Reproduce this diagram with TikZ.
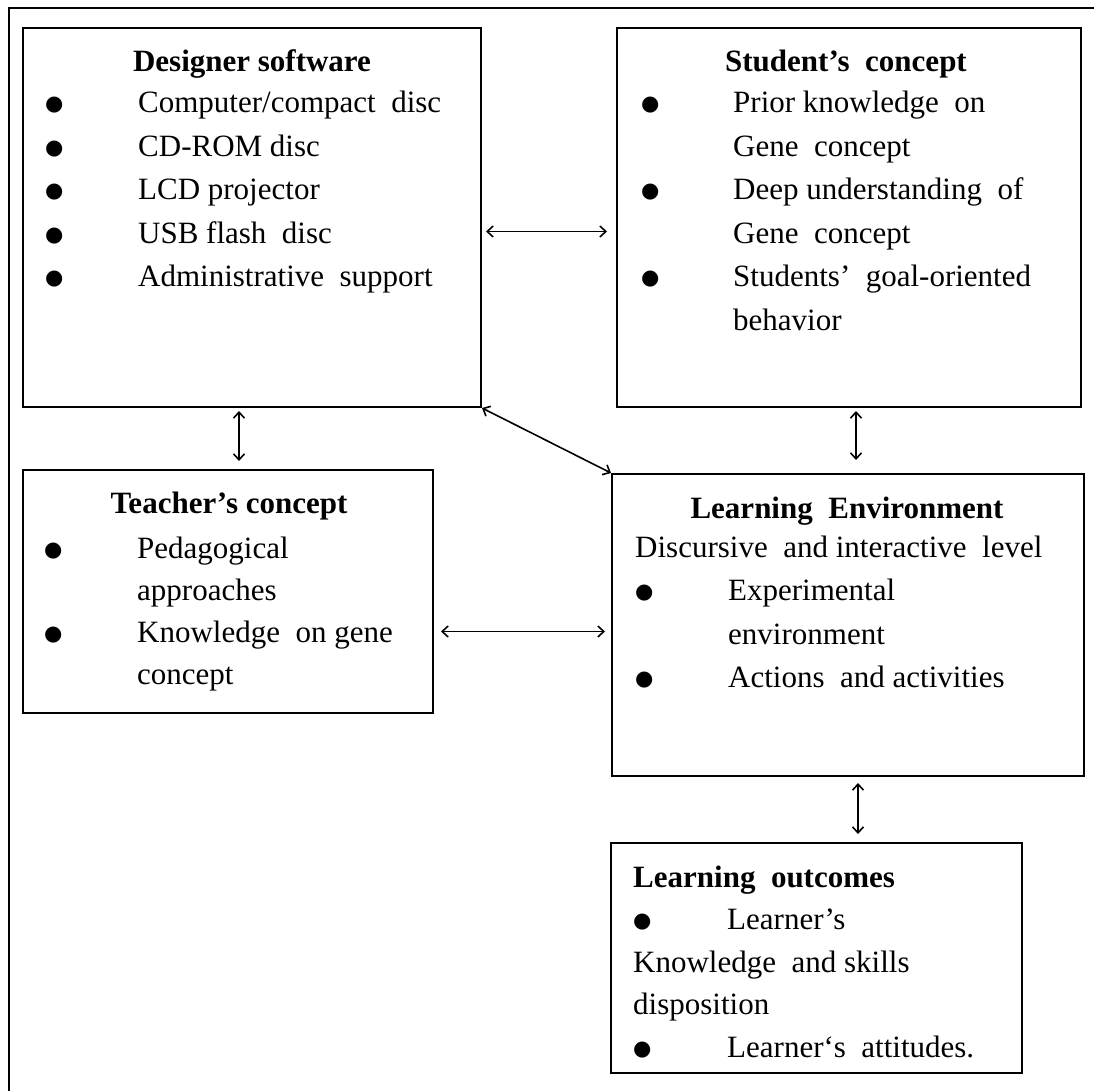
\documentclass[tikz,border=0pt]{standalone}
\usepackage{fontspec}
\setmainfont{Liberation Serif}
\newfontfamily\symfont{DejaVu Sans}
\usetikzlibrary{arrows.meta}

\newcommand{\bul}{\raisebox{2pt}{\symfont\fontsize{21}{21}\selectfont ●}}

\begin{document}
\begin{tikzpicture}[x=1pt, y=-1pt,
  font=\fontsize{31}{43.5}\selectfont,
  block/.style={draw, line width=2pt, inner sep=0pt},
  head/.style={anchor=base, inner sep=0pt, font=\fontsize{31}{43.5}\selectfont\bfseries},
  list/.style={anchor=base west, inner sep=0pt},
  link/.style={{Straight Barb[length=6pt,width=11pt]}-{Straight Barb[length=6pt,width=11pt]}, line width=1.6pt}]
  \useasboundingbox (0,0) rectangle (1094,1091);

  % Frame
  \draw[line width=2pt] (9,1091) |- (1094,8);

  % Boxes
  \node[block, minimum width=458pt, minimum height=379pt] (ds) at (252,217.5) {};
  \node[block, minimum width=464pt, minimum height=379pt] (st) at (849,217.5) {};
  \node[block, minimum width=410pt, minimum height=243pt] (te) at (228,591.5) {};
  \node[block, minimum width=472pt, minimum height=302pt] (le) at (848,625) {};
  \node[block, minimum width=411pt, minimum height=230pt] (lo) at (816.5,958) {};

  % Designer software
  \node[head] (dsH) at (252,72) {Designer software};
  \node[list] (dsL) at (45,113) {\begin{tabular}[t]{@{}p{93pt}@{}l@{}}
    \bul & Computer/compact~ disc\\
    \bul & CD-ROM disc\\
    \bul & LCD projector\\
    \bul & USB flash~ disc\\
    \bul & Administrative~ support
  \end{tabular}};

  % Student's concept
  \node[head] (stH) at (846,72) {Student’s~ concept};
  \node[list] (stL) at (641,113) {\begin{tabular}[t]{@{}p{92pt}@{}l@{}}
    \bul & Prior knowledge~ on\\
         & Gene~ concept\\
    \bul & Deep understanding~ of\\
         & Gene~ concept\\
    \bul & Students’~ goal-oriented\\
         & behavior
  \end{tabular}};

  % Teacher's concept
  \node[head] (teH) at (229,513) {Teacher’s concept};
  \node[list, font=\fontsize{31}{42}\selectfont] (teL) at (44,558) {\begin{tabular}[t]{@{}p{93pt}@{}l@{}}
    \bul & Pedagogical\\
         & approaches\\
    \bul & Knowledge~ on gene\\
         & concept
  \end{tabular}};

  % Learning Environment
  \node[head] (leH) at (847,518) {Learning~ Environment};
  \node[list] (leL) at (635,557) {\begin{tabular}[t]{@{}p{93pt}@{}l@{}}
    \multicolumn{2}{@{}l@{}}{Discursive~ and interactive~ level}\\
    \bul & Experimental\\
         & environment\\
    \bul & Actions~ and activities
  \end{tabular}};

  % Learning outcomes
  \node[list, font=\fontsize{31}{42.5}\selectfont] (loL) at (633,887) {\begin{tabular}[t]{@{}p{94pt}@{}l@{}}
    \multicolumn{2}{@{}l@{}}{\bfseries Learning~ outcomes}\\
    \bul & Learner’s\\
    \multicolumn{2}{@{}l@{}}{Knowledge~ and skills}\\
    \multicolumn{2}{@{}l@{}}{disposition}\\
    \bul & Learner‘s~ attitudes.
  \end{tabular}};

  % Arrows
  \draw[link, shorten <=4pt, shorten >=9pt] ([yshift=-14pt]ds.east) -- ([yshift=-14pt]st.west);
  \draw[link, shorten <=3pt, shorten >=8pt] ([xshift=-13pt]ds.south) -- ([xshift=-13pt]ds.south |- te.north);
  \draw[link] (ds.south east) -- (le.north west);
  \draw[link, shorten <=3pt, shorten >=13pt] ([xshift=7pt]st.south) -- ([xshift=7pt]st.south |- le.north);
  \draw[link, shorten <=7pt, shorten >=6pt] ([yshift=-40pt]te.east) -- ([yshift=-40pt]te.east -| le.west);
  \draw[link, shorten <=6pt, shorten >=8pt] ([xshift=10pt]le.south) -- ([xshift=10pt]le.south |- lo.north);
\end{tikzpicture}
\end{document}
